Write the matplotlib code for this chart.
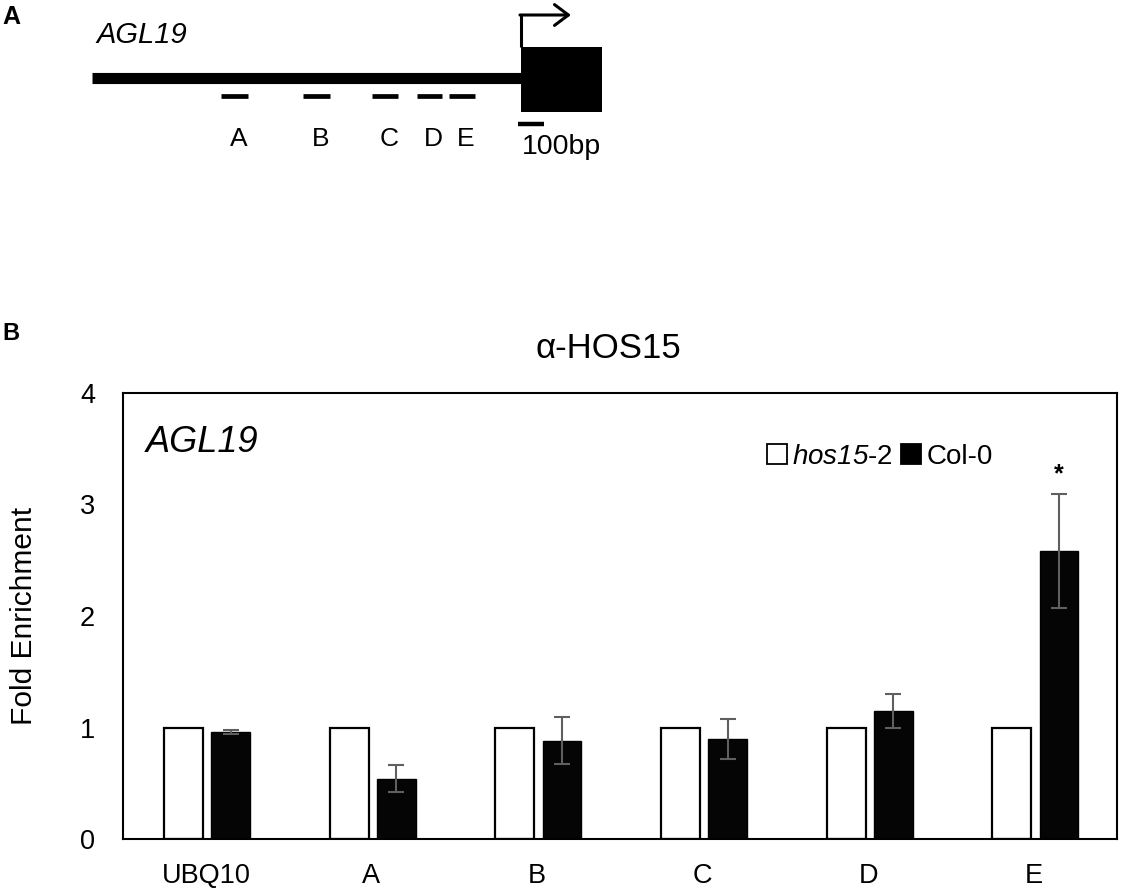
import matplotlib
matplotlib.use("Agg")
import matplotlib.pyplot as plt
from matplotlib.patches import Rectangle, Patch
import numpy as np

plt.rcParams['font.family'] = ['Liberation Sans', 'DejaVu Sans']
plt.rcParams['mathtext.fontset'] = 'custom'
plt.rcParams['mathtext.rm'] = 'Liberation Sans'
plt.rcParams['mathtext.it'] = 'Liberation Sans:italic'
plt.rcParams['mathtext.sf'] = 'Liberation Sans:italic'

# ---------------- data ----------------
categories = ["UBQ10", "A", "B", "C", "D", "E"]
hos15_values = [1.0, 1.0, 1.0, 1.0, 1.0, 1.0]
col0_values = [0.96, 0.54, 0.88, 0.90, 1.15, 2.58]
col0_errors = [0.02, 0.12, 0.21, 0.18, 0.15, 0.51]
significant = [False, False, False, False, False, True]
y_ticks = [0, 1, 2, 3, 4]

# gene schematic (bp relative to TSS)
gene_name = "AGL19"
promoter_start_bp = -1650
exon_end_bp = 310
arrow_end_bp = 192
primer_names = ["A", "B", "C", "D", "E"]
primer_start_bp = [-1154, -838, -573, -400, -277]
primer_end_bp = [-1050, -735, -473, -304, -177]
scale_bar_bp = 100

W, H = 1136, 890
fig = plt.figure(figsize=(W / 100, H / 100), dpi=100)

# ---------------- panel A ----------------
px_per_bp = 0.26
tss_px = 521
axA = fig.add_axes([0, 1 - 200 / H, 1, 200 / H])
axA.set_xlim((0 - tss_px) / px_per_bp, (W - tss_px) / px_per_bp)
axA.set_ylim(200, 0)
axA.axis('off')

axA.plot([promoter_start_bp, 0], [78, 78], color='black', lw=8, solid_capstyle='butt')
axA.add_patch(Rectangle((0, 47), exon_end_bp, 65, facecolor='black', edgecolor='black', lw=0))
axA.plot([0, 0], [47, 15], color='black', lw=2.2, solid_capstyle='butt')
axA.annotate("", xy=(arrow_end_bp, 15), xytext=(-4, 15),
             arrowprops=dict(arrowstyle='->,head_length=1.0,head_width=0.75', lw=2.2, color='black',
                             shrinkA=0, shrinkB=0))
for name, s, e in zip(primer_names, primer_start_bp, primer_end_bp):
    axA.plot([s, e], [96, 96], color='black', lw=3.4, solid_capstyle='butt')
    axA.text((s + e) / 2 + 15, 139, name, ha='center', va='center', fontsize=19)
axA.plot([-12, -12 + scale_bar_bp], [124, 124], color='black', lw=3.2, solid_capstyle='butt')
axA.text(5, 147, f"{scale_bar_bp}bp", ha='left', va='center', fontsize=20.5)
axA.text((96 - tss_px) / px_per_bp, 35, gene_name, ha='left', va='center', fontsize=21, style='italic')

fig.text(2 / W, 1 - 17 / H, "A", fontsize=18, fontweight='bold', ha='left', va='center')
fig.text(2 / W, 1 - 333 / H, "B", fontsize=17, fontweight='bold', ha='left', va='center')

# ---------------- panel B ----------------
left, right, top, bottom = 123, 1117, 393, 839
axB = fig.add_axes([left / W, 1 - bottom / H, (right - left) / W, (bottom - top) / H])
x = np.arange(len(categories))
bw = 0.235
axB.bar(x - 0.135, hos15_values, width=bw, facecolor='white', edgecolor='black', lw=1.6, zorder=2)
axB.bar(x + 0.15, col0_values, width=bw, facecolor='#050505', edgecolor='black', lw=1.0, zorder=2)
axB.errorbar(x + 0.15, col0_values, yerr=col0_errors, fmt='none', ecolor='#5f5f5f',
             elinewidth=1.5, capsize=6, capthick=1.5, zorder=3)
for xi, v, e, sig in zip(x, col0_values, col0_errors, significant):
    if sig:
        axB.annotate("*", xy=(xi + 0.15, v + e), xytext=(0, 6), textcoords='offset points',
                     ha='center', va='bottom', fontsize=18, fontweight='bold')

axB.set_xlim(-0.5, len(categories) - 0.5)
axB.set_ylim(0, 4)
axB.set_yticks(y_ticks)
axB.set_xticks(x)
axB.set_xticklabels(categories)
axB.tick_params(axis='both', length=0, labelsize=19.5)
axB.tick_params(axis='y', pad=20)
axB.tick_params(axis='x', pad=17)
for sp in axB.spines.values():
    sp.set_linewidth(1.5)
axB.set_ylabel("Fold Enrichment", fontsize=21.5, labelpad=30)
axB.set_title("α-HOS15", fontsize=25, pad=25, x=0.488)
axB.text(0.023, 0.888, gene_name, transform=axB.transAxes, fontsize=26, style='italic',
         ha='left', va='center')

handles = [Patch(facecolor='white', edgecolor='black', lw=1.3),
           Patch(facecolor='black', edgecolor='black', lw=1.3)]
labels = [r"$\mathsf{hos15}$-2", "Col-0"]
axB.legend(handles, labels, ncol=2, frameon=False, loc='center left',
           bbox_to_anchor=(0.648, 0.857), fontsize=20, handlelength=0.7, handleheight=0.7,
           handletextpad=0.2, columnspacing=0.3, borderpad=0, borderaxespad=0)

fig.savefig("out.png", dpi=100)
